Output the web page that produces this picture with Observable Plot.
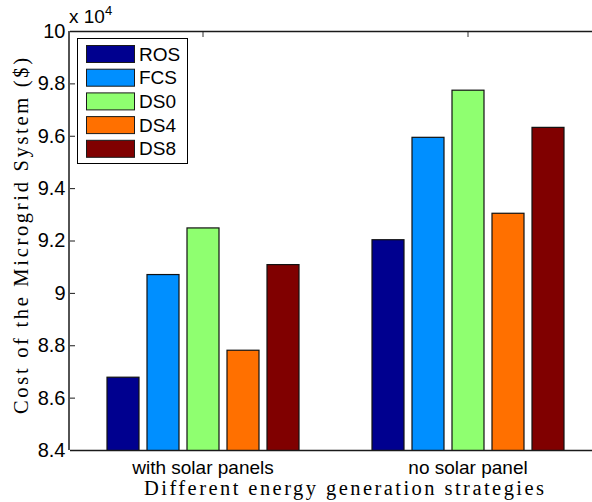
<!DOCTYPE html>
<html><head><meta charset="utf-8">
<script src="https://cdn.jsdelivr.net/npm/d3@7"></script>
<script src="https://cdn.jsdelivr.net/npm/@observablehq/plot@0.6"></script>
<style>
body{margin:0;background:#fff;overflow:hidden}
#chart{position:relative;width:592px;height:502px}
svg{display:block}
</style>
</head><body><div id="chart"></div>
<script>
const groups = ["with solar panels", "no solar panel"];
const strategies = ["ROS", "FCS", "DS0", "DS4", "DS8"];
const withSolar = [86780, 90700, 92480, 87810, 91080];
const noSolar = [92030, 95940, 97740, 93040, 96320];
const colors = ["#00008f", "#008fff", "#8fff70", "#ff7000", "#800000"];
const yTicks = [84000, 86000, 88000, 90000, 92000, 94000, 96000, 98000, 100000];
const yLabel = "Cost of the Microgrid System ($)";
const xLabel = "Different energy generation strategies";

const series = [withSolar, noSolar];
const data = groups.flatMap((g, i) => strategies.map((s, j) => ({group: g, strategy: s, cost: series[i][j]})));

const sans = "Liberation Sans, Arial, Helvetica, sans-serif";
const serif = "Liberation Serif, Times New Roman, serif";

const plot = Plot.plot({
  width: 592, height: 502,
  marginLeft: 69, marginRight: -8, marginTop: 31, marginBottom: 52,
  style: {fontFamily: sans, fontSize: "19px", background: "#fff", color: "#000", overflow: "hidden"},
  fx: {domain: groups, padding: 0, label: null, axis: null},
  x: {domain: strategies, paddingInner: 0.2024, paddingOuter: 0.839, axis: null},
  y: {domain: [84000, 100000], axis: null},
  color: {domain: strategies, range: colors},
  marks: [
    Plot.axisFx({anchor: "top", tickSize: -5, tickFormat: () => "", label: null, stroke: "#333"}),
    Plot.barY(data, {fx: "group", x: "strategy", y: "cost", fill: "strategy", stroke: "#111", strokeWidth: 1.2, clip: true}),
    Plot.ruleY([84000, 100000], {stroke: "#1a1a1a", strokeWidth: 1.5}),
    Plot.axisY({ticks: yTicks, tickSize: -5, tickPadding: 10, tickFormat: d => String(d / 1e4), label: null, fontSize: 20, stroke: "#1a1a1a"}),
    Plot.axisFx({anchor: "bottom", tickSize: 0, tickPadding: 10, label: null, fontSize: 19})
  ]
});
document.getElementById("chart").appendChild(plot);

const svg = d3.select(plot);
const x0 = 69, yTop = 31, yBot = 450;
// left frame line
svg.append("line").attr("x1", x0).attr("x2", x0).attr("y1", yTop).attr("y2", yBot)
  .attr("stroke", "#1a1a1a").attr("stroke-width", 1.5);

// exponent label
const ex = svg.append("text").attr("x", 69).attr("y", 23).attr("text-anchor", "start")
  .attr("font-family", sans).attr("font-size", 19).attr("fill", "#000");
ex.append("tspan").text("x 10");
ex.append("tspan").attr("dy", -8).attr("font-size", 13).text("4");

// axis labels
svg.append("text").attr("transform", "translate(28,236) rotate(-90)")
  .attr("text-anchor", "middle").attr("font-family", serif).attr("font-size", 20.5)
  .attr("textLength", 356).attr("lengthAdjust", "spacing")
  .attr("fill", "#000").text(yLabel);
svg.append("text").attr("x", 344).attr("y", 495)
  .attr("text-anchor", "middle").attr("font-family", serif).attr("font-size", 20.5)
  .attr("textLength", 400).attr("lengthAdjust", "spacing")
  .attr("fill", "#000").text(xLabel);

// legend
const color = plot.scale("color");
const lg = svg.append("g").attr("text-anchor", "start");
lg.append("rect").attr("x", 77.5).attr("y", 38.5).attr("width", 110).attr("height", 125)
  .attr("fill", "#fff").attr("stroke", "#000").attr("stroke-width", 1);
strategies.forEach((s, i) => {
  const yy = 45 + i * 23.7;
  lg.append("rect").attr("x", 86.5).attr("y", yy + 0.5).attr("width", 48).attr("height", 17)
    .attr("fill", color.apply(s)).attr("stroke", "#1a1a1a").attr("stroke-width", 1);
  lg.append("text").attr("x", 139).attr("y", yy + 9).attr("dy", "0.35em")
    .attr("font-family", sans).attr("font-size", 19).attr("fill", "#000").text(s);
});
</script>
</body></html>
